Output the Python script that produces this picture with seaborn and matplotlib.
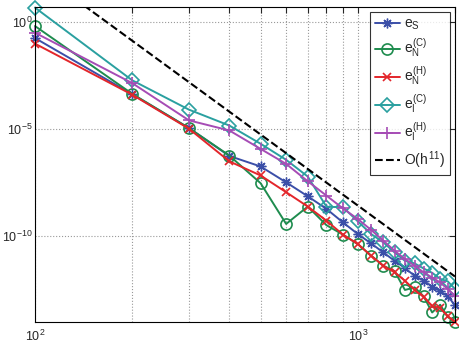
# error curves vs N, log-log

import numpy as np
import pandas as pd
import matplotlib
matplotlib.use("Agg")
import matplotlib.pyplot as plt
import seaborn as sns

# ==========================================
# DATA (log10 of error)
# ==========================================

N = [100, 200, 300, 400, 500, 600, 700, 800, 900, 1000,
     1100, 1200, 1300, 1400, 1500, 1600, 1700, 1800, 1900, 2000]

log_eS = [-0.75, -3.37, -4.95, -6.25, -6.74, -7.48, -8.13, -8.72, -9.35, -9.89,
          -10.33, -10.75, -11.14, -11.48, -11.84, -12.07, -12.35, -12.55, -12.80, -13.20]

log_eNC = [-0.19, -3.35, -4.95, -6.23, -7.52, -9.42, -8.61, -9.48, -9.92, -10.36,
           -10.90, -11.37, -11.62, -12.50, -12.38, -12.80, -13.55, -13.19, -13.76, -14.00]

log_eNH = [-1.01, -3.39, -4.98, -6.50, -7.16, -7.94, -8.61, -9.27, -9.92, -10.36,
           -10.90, -11.37, -11.68, -12.07, -12.50, -12.83, -13.24, -13.35, -13.73, -14.00]

log_eIC = [0.67, -2.72, -4.09, -4.83, -5.68, -6.43, -7.21, -8.62, -8.64, -9.30,
           -9.89, -10.28, -10.75, -11.14, -11.26, -11.50, -11.70, -11.98, -12.10, -12.45]

log_eIH = [-0.50, -2.85, -4.59, -5.06, -5.92, -6.62, -7.43, -8.10, -8.70, -9.19,
           -9.70, -10.20, -10.67, -11.06, -11.37, -11.68, -11.92, -12.15, -12.46, -12.77]

labels = [r"$e_S$", r"$e_N^{(C)}$", r"$e_N^{(H)}$", r"$e_I^{(C)}$", r"$e_I^{(H)}$"]
colors = ["#3b4fa8", "#1e8c4e", "#e3262b", "#2aa0a0", "#a64cb5"]

# reference slope line O(h^11), constant
ref_log_c = 24.44

# ==========================================
# PLOT
# ==========================================

sns.set_style("white")
plt.rcParams["font.family"] = ["Liberation Sans", "DejaVu Sans"]
plt.rcParams["mathtext.fontset"] = "custom"
plt.rcParams["mathtext.rm"] = "Liberation Sans"
plt.rcParams["mathtext.it"] = "Liberation Sans"

fig = plt.figure(figsize=(4.6, 3.49), dpi=100)
ax = fig.add_axes([0.076, 0.077, 0.913, 0.903])

series = [log_eS, log_eNC, log_eNH, log_eIC, log_eIH]
markers = [dict(marker=(8, 2, 0), markersize=7, markeredgewidth=1.0),
           dict(marker="o", markersize=8, markerfacecolor="none", markeredgewidth=1.2),
           dict(marker="x", markersize=6, markeredgewidth=1.2),
           dict(marker="D", markersize=7, markerfacecolor="none", markeredgewidth=1.2),
           dict(marker="+", markersize=8, markeredgewidth=1.2)]

for vals, lab, col, mk in zip(series, labels, colors, markers):
    df = pd.DataFrame({"N": N, "err": 10.0 ** np.array(vals)})
    sns.lineplot(data=df, x="N", y="err", ax=ax, color=col, label=lab,
                 linewidth=1.4, markeredgecolor=col, clip_on=False, **mk)

ref = pd.DataFrame({"N": N, "err": 10.0 ** (ref_log_c - 11 * np.log10(N))})
sns.lineplot(data=ref, x="N", y="err", ax=ax, color="black", linestyle="--",
             linewidth=1.5, label=r"$O(h^{11})$", dashes=(3, 3))

ax.set_xscale("log")
ax.set_yscale("log")
ax.set_xlim(100, 2000)
ax.set_ylim(1e-14, 5)
ax.set_xlabel("")
ax.set_ylabel("")

ax.set_xticks([100, 1000])
ax.set_xticks([200, 300, 400, 500, 600, 700, 800, 900, 2000], minor=True)
ax.set_xticklabels([r"$10^2$", r"$10^3$"], fontsize=9)
ax.xaxis.set_minor_formatter(matplotlib.ticker.NullFormatter())
ax.set_yticks([1e-10, 1e-5, 1e0])
ax.set_yticks([], minor=True)
ax.set_yticklabels([r"$10^{-10}$", r"$10^{-5}$", r"$10^0$"], fontsize=9)

ax.tick_params(which="both", direction="in", top=True, right=True, length=4, width=0.8)
ax.tick_params(axis="y", pad=2)
ax.tick_params(axis="x", pad=5)
ax.grid(True, which="both", axis="x", linestyle=":", color="#999999", linewidth=0.8)
ax.grid(True, which="major", axis="y", linestyle=":", color="#999999", linewidth=0.8)
for s in ax.spines.values():
    s.set_color("black")
    s.set_linewidth(0.8)

leg = ax.legend(loc="upper right", fontsize=10, frameon=True, fancybox=False,
                edgecolor="black", handlelength=1.8, labelspacing=0.35,
                borderaxespad=0.35, handletextpad=0.3, borderpad=0.35)
leg.get_frame().set_linewidth(0.8)

fig.savefig("out.png", dpi=100)
